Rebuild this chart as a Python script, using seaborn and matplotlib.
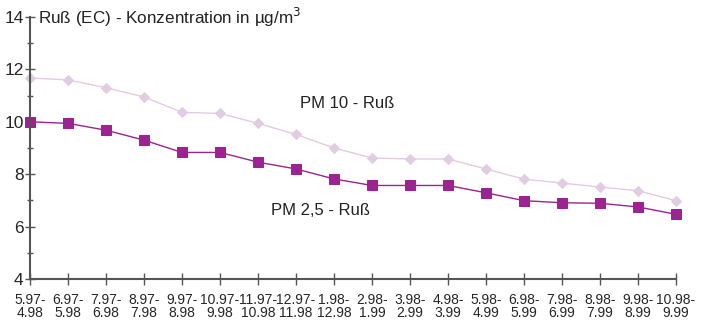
import numpy as np
import pandas as pd
import matplotlib
matplotlib.use("Agg")
import matplotlib.pyplot as plt
import seaborn as sns
from matplotlib.ticker import MultipleLocator

periods = ['5.97-\n4.98', '6.97-\n5.98', '7.97-\n6.98', '8.97-\n7.98', '9.97-\n8.98',
           '10.97-\n9.98', '11.97-\n10.98', '12.97-\n11.98', '1.98-\n12.98', '2.98-\n1.99',
           '3.98-\n2.99', '4.98-\n3.99', '5.98-\n4.99', '6.98-\n5.99', '7.98-\n6.99',
           '8.98-\n7.99', '9.98-\n8.99', '10.98-\n9.99']
pm10 = [11.67, 11.6, 11.3, 10.95, 10.36, 10.32, 9.94, 9.52, 9.0, 8.62,
        8.58, 8.58, 8.2, 7.81, 7.66, 7.51, 7.37, 6.99]
pm25 = [10.0, 9.94, 9.68, 9.3, 8.83, 8.83, 8.46, 8.2, 7.82, 7.57,
        7.57, 7.57, 7.29, 6.99, 6.91, 6.89, 6.75, 6.47]

sns.set_style("white", rc={'xtick.bottom': True, 'ytick.left': True})
plt.rcParams['font.family'] = ['Liberation Sans', 'DejaVu Sans']

df = pd.DataFrame({'idx': np.arange(len(periods)), 'pm10': pm10, 'pm25': pm25})

fig = plt.figure(figsize=(7.03, 3.21), dpi=100)
ax = fig.add_axes([30 / 703, 42 / 321, 646 / 703, 262 / 321])

sns.lineplot(data=df, x='idx', y='pm10', ax=ax, color='#e2cce2', marker='D',
             markersize=5, markeredgecolor='#e2cce2', linewidth=1.0, clip_on=False)
sns.lineplot(data=df, x='idx', y='pm25', ax=ax, color='#9c2391', marker='s',
             markersize=6.5, markeredgecolor='#9c2391', linewidth=1.0, clip_on=False)

ax.set_xlim(0, len(periods) - 1)
ax.set_ylim(4, 14)
ax.set_xticks(df['idx'])
ax.set_xticklabels(periods, fontsize=10, linespacing=0.95)
ax.yaxis.set_major_locator(MultipleLocator(2))
ax.yaxis.set_minor_locator(MultipleLocator(1))
ax.tick_params(axis='y', which='major', labelsize=12.5, direction='inout', length=7,
               width=1, color='#555555', pad=1)
ax.tick_params(axis='y', which='minor', left=True, direction='inout', length=5, width=1,
               color='#555555')
ax.tick_params(axis='x', direction='inout', length=8, width=1, color='#555555', pad=6)
ax.set_xlabel('')
ax.set_ylabel('')
for s in ['top', 'right']:
    ax.spines[s].set_visible(False)
for s in ['left', 'bottom']:
    ax.spines[s].set_color('#555555')
    ax.spines[s].set_linewidth(1.5)

ax.text(0.2, 14, 'Ruß (EC) - Konzentration in µg/m$^3$', fontsize=12.3,
        va='center', ha='left', color='#222222')
ax.text(7.1, 10.7, 'PM 10 - Ruß', fontsize=12, color='#222222', va='center')
ax.text(6.35, 6.6, 'PM 2,5 - Ruß', fontsize=12, color='#222222', va='center')

fig.savefig('out.png', dpi=100)
